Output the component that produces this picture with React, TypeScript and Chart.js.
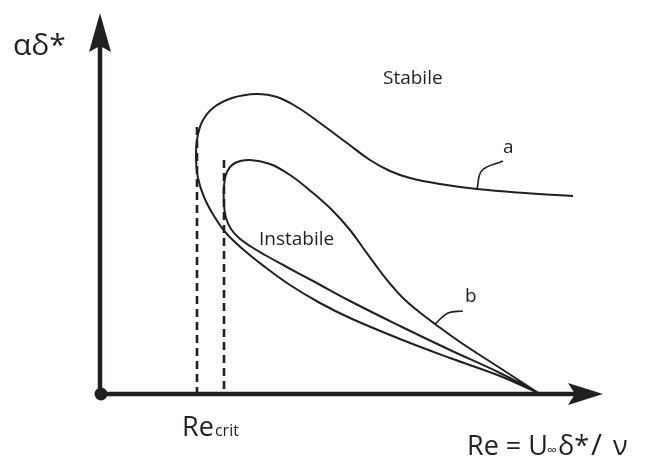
import { useEffect, useRef } from "react";
import { Chart, registerables } from "chart.js";

Chart.register(...registerables);

// Schematic neutral-stability curves in the (Re, αδ*) plane, arbitrary units.
// Curve a: upper branch (tends to a finite αδ*) -> nose -> lower branch.
const curveARe = [9.46, 8.5, 7.54, 6.8, 6.2, 5.8, 5.4, 4.94, 4.4, 3.94, 3.54, 3.14, 2.64, 2.26, 2.04, 1.94, 1.92, 1.96, 2.08, 2.28, 2.52, 2.9, 3.3, 3.8, 4.4, 5.0, 6.0, 7.0, 8.0, 8.8];
const curveAAlpha = [3.96, 4.02, 4.1, 4.2, 4.32, 4.46, 4.68, 5.02, 5.42, 5.74, 5.94, 6.0, 5.92, 5.72, 5.44, 5.08, 4.72, 4.32, 3.94, 3.56, 3.22, 2.86, 2.54, 2.18, 1.82, 1.52, 1.1, 0.72, 0.36, 0];

// Curve b: closed loop, both branches vanishing at large Re.
const curveBRe = [8.8, 8.0, 7.2, 6.7, 6.36, 6.08, 5.84, 5.6, 5.32, 5.0, 4.64, 4.26, 3.8, 3.4, 3.0, 2.7, 2.54, 2.48, 2.48, 2.52, 2.62, 2.78, 3.0, 3.3, 3.7, 4.26, 5.0, 6.0, 7.0, 8.0, 8.8];
const curveBAlpha = [0, 0.52, 1.04, 1.4, 1.66, 1.9, 2.16, 2.46, 2.84, 3.28, 3.68, 4.02, 4.38, 4.6, 4.68, 4.62, 4.44, 4.16, 3.78, 3.52, 3.3, 3.12, 2.96, 2.78, 2.56, 2.26, 1.86, 1.36, 0.88, 0.42, 0];

// Critical Reynolds numbers (dashed markers) and their top ends
const reCrit = [1.94, 2.48];
const reCritTop = [5.34, 4.68];

// Label leaders
const leaderARe = [7.54, 7.64, 8.06];
const leaderAAlpha = [4.1, 4.47, 4.66];
const leaderBRe = [6.7, 6.96, 7.26];
const leaderBAlpha = [1.4, 1.62, 1.66];

// Region / curve labels: [text, Re, αδ*]
const regionLabels: [string, number, number][] = [
  ["Stabile", 5.66, 6.2],
  ["Instabile", 3.18, 2.98],
  ["a", 8.06, 4.82],
  ["b", 7.3, 1.84],
];

const RE_MAX = 10;
const ALPHA_MAX = 7.6;
const RE_AXIS_END = 10.06;
const ALPHA_AXIS_END = 7.62;

const INK = "#231f20";
const FONT = '"Open Sans", "DejaVu Sans", sans-serif';

const toPts = (xs: number[], ys: number[]) => xs.map((x, i) => ({ x, y: ys[i] }));

const axesPlugin = {
  id: "schematicAxes",
  afterDatasetsDraw(chart: any) {
    const { ctx, scales } = chart;
    const xs = scales.x;
    const ys = scales.y;
    const ox = xs.getPixelForValue(0);
    const oy = ys.getPixelForValue(0);
    const xEnd = xs.getPixelForValue(RE_AXIS_END);
    const yEnd = ys.getPixelForValue(ALPHA_AXIS_END);

    ctx.save();
    ctx.strokeStyle = INK;
    ctx.fillStyle = INK;
    ctx.lineWidth = 4.5;
    ctx.lineCap = "butt";

    // axis shafts
    ctx.beginPath();
    ctx.moveTo(ox, oy);
    ctx.lineTo(xEnd - 28, oy);
    ctx.moveTo(ox, oy);
    ctx.lineTo(ox, yEnd + 32);
    ctx.stroke();

    // arrowheads
    ctx.beginPath();
    ctx.moveTo(xEnd, oy);
    ctx.lineTo(xEnd - 35, oy - 11);
    ctx.lineTo(xEnd - 28, oy);
    ctx.lineTo(xEnd - 35, oy + 11);
    ctx.closePath();
    ctx.fill();

    ctx.beginPath();
    ctx.moveTo(ox, yEnd);
    ctx.lineTo(ox - 11, yEnd + 39);
    ctx.lineTo(ox, yEnd + 33);
    ctx.lineTo(ox + 11, yEnd + 39);
    ctx.closePath();
    ctx.fill();

    // origin dot
    ctx.beginPath();
    ctx.arc(ox + 1, oy, 6.5, 0, Math.PI * 2);
    ctx.fill();

    // region and curve labels
    ctx.textAlign = "left";
    ctx.textBaseline = "alphabetic";
    ctx.font = `19px ${FONT}`;
    for (const [t, re, al] of regionLabels) {
      ctx.fillText(t, xs.getPixelForValue(re), ys.getPixelForValue(al));
    }

    // y-axis title
    ctx.font = `30px ${FONT}`;
    ctx.fillText("αδ*", ox - 87, yEnd + 42);

    // Re_crit label centred under the two dashed markers
    const cx = xs.getPixelForValue((reCrit[0] + reCrit[1]) / 2);
    ctx.font = `27px ${FONT}`;
    const wRe = ctx.measureText("Re").width;
    ctx.font = `16px ${FONT}`;
    const wCrit = ctx.measureText("crit").width;
    const startX = cx - (wRe + wCrit + 1) / 2;
    ctx.font = `27px ${FONT}`;
    ctx.fillText("Re", startX, oy + 42);
    ctx.font = `16px ${FONT}`;
    ctx.fillText("crit", startX + wRe + 1, oy + 42);

    // x-axis title: Re = U∞δ*/ν
    const tx = xEnd - 136;
    const ty = oy + 61;
    ctx.font = `27px ${FONT}`;
    ctx.fillText("Re = U", tx, ty);
    ctx.font = `14px ${FONT}`;
    ctx.fillText("∞", tx + 80, ty);
    ctx.font = `27px ${FONT}`;
    ctx.fillText("δ*", tx + 91, ty);
    ctx.font = `30px ${FONT}`;
    ctx.fillText("/", tx + 124, ty);
    ctx.font = `27px ${FONT}`;
    ctx.fillText("ν", tx + 146, ty);

    ctx.restore();
  },
};

export default function App() {
  const ref = useRef<HTMLCanvasElement>(null);

  useEffect(() => {
    const curve = (xs: number[], ys: number[], width = 2) => ({
      data: toPts(xs, ys),
      showLine: true,
      borderColor: INK,
      borderWidth: width,
      pointRadius: 0,
      tension: 0.4,
      fill: false,
      clip: false as const,
    });
    const dashed = (re: number, top: number) => ({
      data: [
        { x: re, y: top },
        { x: re, y: 0 },
      ],
      showLine: true,
      borderColor: INK,
      borderWidth: 2.6,
      borderDash: [8, 5],
      pointRadius: 0,
      tension: 0,
      clip: false as const,
    });

    const chart = new Chart(ref.current!, {
      type: "scatter",
      data: {
        datasets: [
          curve(curveARe, curveAAlpha),
          curve(curveBRe, curveBAlpha),
          dashed(reCrit[0], reCritTop[0]),
          dashed(reCrit[1], reCritTop[1]),
          curve(leaderARe, leaderAAlpha, 1.6),
          curve(leaderBRe, leaderBAlpha, 1.6),
        ] as any,
      },
      options: {
        responsive: false,
        animation: false,
        events: [],
        layout: { padding: { left: 100, right: 46, top: 14, bottom: 66 } },
        scales: {
          x: { type: "linear", min: 0, max: RE_MAX, display: false },
          y: { type: "linear", min: 0, max: ALPHA_MAX, display: false },
        },
        plugins: {
          legend: { display: false },
          tooltip: { enabled: false },
        },
      },
      plugins: [axesPlugin],
    });
    return () => chart.destroy();
  }, []);

  return (
    <div style={{ position: "fixed", left: 0, top: 0, width: 646, height: 460, background: "#fff" }}>
      <canvas ref={ref} width={646} height={460} style={{ display: "block" }} />
    </div>
  );
}
